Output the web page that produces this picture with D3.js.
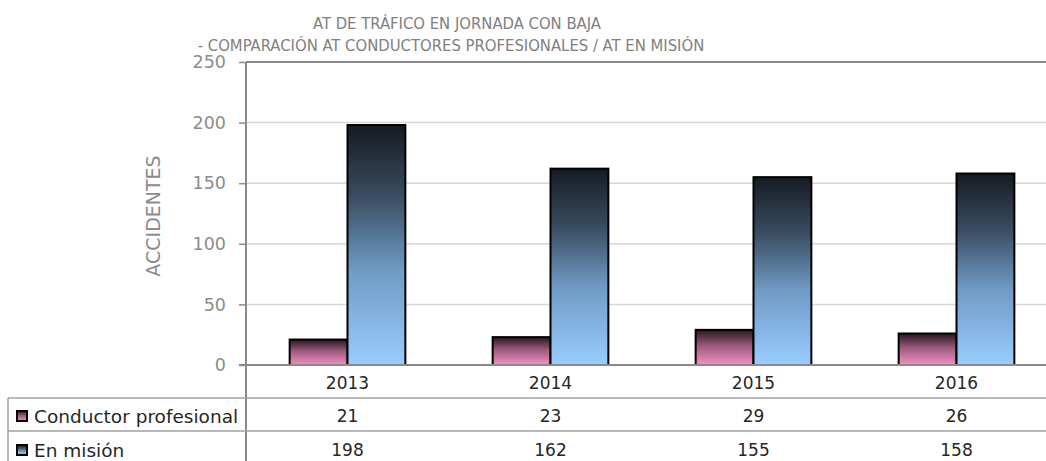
<!DOCTYPE html>
<html>
<head>
<meta charset="utf-8">
<script src="https://cdn.jsdelivr.net/npm/d3@7"></script>
<style>
  body { margin: 0; background: #fff; }
  text { font-family: "DejaVu Sans", sans-serif; }
  .title { font-family: "DejaVu Sans Condensed", "DejaVu Sans", sans-serif; }
</style>
</head>
<body>
<svg id="chart"></svg>
<script>
// data
const years = ["2013", "2014", "2015", "2016"];
const seriesNames = ["Conductor profesional", "En misión"];
const conductorProfesional = [21, 23, 29, 26];
const enMision = [198, 162, 155, 158];
const yTicks = [0, 50, 100, 150, 200, 250];
const titleLines = ["AT DE TRÁFICO EN JORNADA CON BAJA", "- COMPARACIÓN AT CONDUCTORES PROFESIONALES / AT EN MISIÓN"];

const width = 1046, height = 461;
const plot = { left: 246, right: 1058, top: 62, bottom: 365 };
const rows = { years: 383, first: 398, second: 431 };

const svg = d3.select("#chart").attr("width", width).attr("height", height);

// gradients, one per series, along each bar
const defs = svg.append("defs");
const grads = [
    { id: "gPink", stops: [[0, "#2a1620"], [0.45, "#9a5a7c"], [1, "#f590c2"]] },
    { id: "gBlue", stops: [[0, "#161b22"], [0.3, "#3a4d62"], [0.6, "#6f9ac4"], [1, "#99ccff"]] }
];
grads.forEach(g => {
    const lg = defs.append("linearGradient").attr("id", g.id)
        .attr("x1", 0).attr("y1", 0).attr("x2", 0).attr("y2", 1);
    g.stops.forEach(s => lg.append("stop").attr("offset", s[0]).attr("stop-color", s[1]));
});
const fills = ["url(#gPink)", "url(#gBlue)"];

const x0 = d3.scaleBand().domain(years).range([plot.left, plot.right])
    .paddingInner(0.43).paddingOuter(0.215);
const x1 = d3.scaleBand().domain(seriesNames).range([0, x0.bandwidth()]);
const y = d3.scaleLinear().domain([0, 250]).range([plot.bottom, plot.top]);

// gridlines
svg.append("g").selectAll("line")
    .data(yTicks.filter(d => d > 0 && d < 250))
    .join("line")
    .attr("x1", plot.left).attr("x2", width)
    .attr("y1", d => y(d)).attr("y2", d => y(d))
    .attr("stroke", "#d6d6d6").attr("stroke-width", 1.5);

// top border
svg.append("line")
    .attr("x1", plot.left).attr("x2", width)
    .attr("y1", y(250)).attr("y2", y(250))
    .attr("stroke", "#8a8a8a").attr("stroke-width", 2);

// y axis
const yAxis = svg.append("g")
    .attr("transform", `translate(${plot.left},0)`)
    .call(d3.axisLeft(y).tickValues(yTicks).tickSize(7).tickPadding(13));
yAxis.select(".domain").remove();
yAxis.selectAll("line").attr("stroke", "#8a8a8a").attr("stroke-width", 1.5);
yAxis.selectAll("text").attr("fill", "#8c8c8c").style("font-size", "17.5px")
    .style("font-family", "'DejaVu Sans', sans-serif");

// bars
const data = years.map((yr, i) => ({ year: yr, values: [conductorProfesional[i], enMision[i]] }));
svg.append("g").selectAll("g")
    .data(data)
    .join("g")
    .attr("transform", d => `translate(${x0(d.year)},0)`)
    .selectAll("rect")
    .data(d => d.values.map((v, k) => ({ name: seriesNames[k], value: v, k: k })))
    .join("rect")
    .attr("x", d => x1(d.name))
    .attr("y", d => y(d.value))
    .attr("width", x1.bandwidth())
    .attr("height", d => y(0) - y(d.value))
    .attr("fill", d => fills[d.k])
    .attr("stroke", "#000").attr("stroke-width", 2);

// axis lines and data table grid
const gridColor = "#a0a0a0";
svg.append("line").attr("x1", plot.left).attr("x2", plot.left)
    .attr("y1", plot.top).attr("y2", height).attr("stroke", "#8a8a8a").attr("stroke-width", 2);
svg.append("line").attr("x1", plot.left - 7).attr("x2", width)
    .attr("y1", y(0)).attr("y2", y(0)).attr("stroke", "#8a8a8a").attr("stroke-width", 2);
[rows.first, rows.second].forEach(ry => {
    svg.append("line").attr("x1", 8).attr("x2", width)
        .attr("y1", ry).attr("y2", ry).attr("stroke", gridColor).attr("stroke-width", 1.5);
});
svg.append("line").attr("x1", 8).attr("x2", 8)
    .attr("y1", rows.first).attr("y2", height).attr("stroke", gridColor).attr("stroke-width", 1.5);

// year labels
svg.append("g").selectAll("text")
    .data(years)
    .join("text")
    .attr("x", d => x0(d) + x0.bandwidth() / 2)
    .attr("y", rows.years)
    .attr("text-anchor", "middle").attr("dominant-baseline", "central")
    .attr("fill", "#262626").style("font-size", "17px")
    .text(d => d);

// table rows
const tableRows = [
    { name: seriesNames[0], values: conductorProfesional, cy: 416, fill: fills[0] },
    { name: seriesNames[1], values: enMision, cy: 450, fill: fills[1] }
];
tableRows.forEach(r => {
    const g = svg.append("g");
    g.append("rect").attr("x", 17).attr("y", r.cy - 5).attr("width", 10).attr("height", 10)
        .attr("fill", r.fill).attr("stroke", "#000").attr("stroke-width", 2);
    g.append("text").attr("x", 34).attr("y", r.cy)
        .attr("dominant-baseline", "central")
        .attr("fill", "#262626").style("font-size", "18.5px").text(r.name);
    g.selectAll("text.v")
        .data(r.values)
        .join("text").attr("class", "v")
        .attr("x", (d, i) => x0(years[i]) + x0.bandwidth() / 2)
        .attr("y", r.cy)
        .attr("text-anchor", "middle").attr("dominant-baseline", "central")
        .attr("fill", "#262626").style("font-size", "17px")
        .text(d => d);
});

// y axis title
svg.append("text")
    .attr("transform", `translate(153,216) rotate(-90)`)
    .attr("text-anchor", "middle").attr("dominant-baseline", "central")
    .attr("fill", "#8c8c8c").style("font-size", "19px")
    .text("ACCIDENTES");

// title
svg.append("g").selectAll("text")
    .data(titleLines)
    .join("text").attr("class", "title")
    .attr("x", (d, i) => i === 0 ? 457 : 451)
    .attr("y", (d, i) => 29 + i * 22)
    .attr("text-anchor", "middle")
    .attr("fill", "#808080").style("font-size", "16.5px")
    .text(d => d);
</script>
</body>
</html>
